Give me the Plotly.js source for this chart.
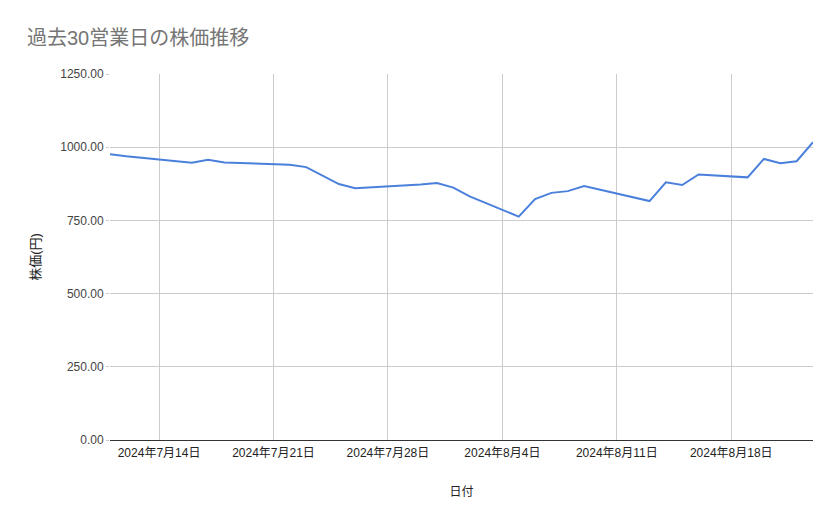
<!DOCTYPE html>
<html>
<head>
<meta charset="utf-8">
<script src="https://cdn.plot.ly/plotly-3.0.1.min.js"></script>
<style>
  html, body { margin: 0; padding: 0; background: #fff; }
  #chart { width: 839px; height: 519px; }
</style>
</head>
<body>
<div id="chart"></div>
<script>
// 30 business days (Jul 15 and Aug 12 are Japanese holidays)
const dates = [
  '2024-07-11', '2024-07-12', '2024-07-16', '2024-07-17', '2024-07-18', '2024-07-19',
  '2024-07-22', '2024-07-23', '2024-07-24', '2024-07-25', '2024-07-26',
  '2024-07-29', '2024-07-30', '2024-07-31', '2024-08-01', '2024-08-02',
  '2024-08-05', '2024-08-06', '2024-08-07', '2024-08-08', '2024-08-09',
  '2024-08-13', '2024-08-14', '2024-08-15', '2024-08-16',
  '2024-08-19', '2024-08-20', '2024-08-21', '2024-08-22', '2024-08-23'
];
const prices = [
  976, 969, 947, 957, 948, 946,
  940, 932, 903, 874, 860,
  868, 873, 878, 862, 832,
  763, 823, 844, 850, 867,
  816, 880, 871, 907,
  897, 960, 945, 952, 1017
];
const yTicks = [0, 250, 500, 750, 1000, 1250];

const font = 'Liberation Sans, Arial, Noto Sans CJK JP, sans-serif';

const priceTrace = {
  x: dates,
  y: prices,
  mode: 'lines',
  line: {color: '#4a80dc', width: 2},
  hoverinfo: 'x+y'
};

const layout = {
  width: 839,
  height: 519,
  margin: {l: 110, r: 26, t: 74, b: 79},
  paper_bgcolor: '#ffffff',
  plot_bgcolor: '#ffffff',
  showlegend: false,
  font: {family: font, size: 12, color: '#222222'},
  title: {
    text: '過去30営業日の株価推移',
    font: {family: font, size: 20, color: '#757575'},
    xref: 'container', x: 27 / 839, xanchor: 'left',
    yref: 'container', y: 1 - 38 / 519, yanchor: 'middle'
  },
  xaxis: {
    type: 'date',
    range: ['2024-07-11', '2024-08-23'],
    tick0: '2024-07-14',
    dtick: 7 * 24 * 60 * 60 * 1000,
    tickformat: '%Y年%-m月%-d日',
    tickfont: {family: font, size: 12, color: '#222222'},
    ticklabelstandoff: 2,
    showgrid: true,
    gridcolor: '#cccccc',
    gridwidth: 1,
    showline: true,
    linecolor: '#333333',
    linewidth: 1,
    ticks: '',
    zeroline: false,
    title: {text: '日付', font: {family: font, size: 12, color: '#222222'}, standoff: 28}
  },
  yaxis: {
    range: [0, 1250],
    tickvals: yTicks,
    tickformat: '.2f',
    tickfont: {family: font, size: 12, color: '#444444'},
    showgrid: true,
    gridcolor: '#cccccc',
    gridwidth: 1,
    ticks: 'outside',
    ticklen: 3,
    tickcolor: '#cccccc',
    zeroline: false,
    title: {text: '株価(円)', font: {family: font, size: 13, color: '#222222'}, standoff: 16}
  }
};

const config = {
  responsive: false,
  displayModeBar: false
};

Plotly.newPlot('chart', [priceTrace], layout, config);
</script>
</body>
</html>
